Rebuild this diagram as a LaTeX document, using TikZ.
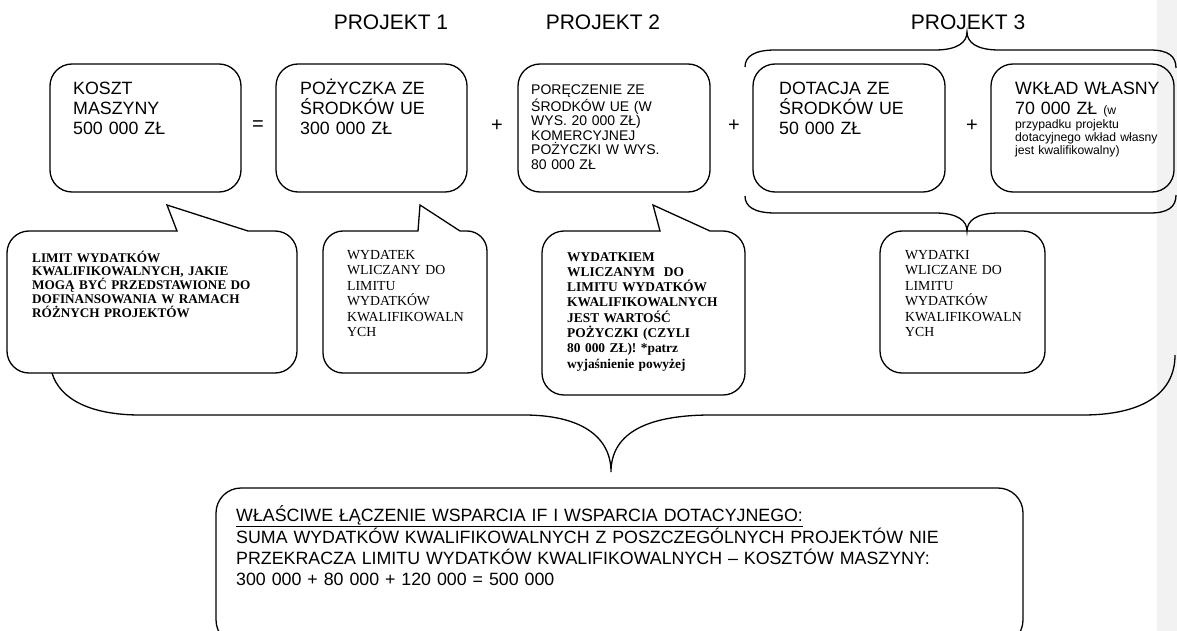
\documentclass[tikz,border=0pt]{standalone}
\usepackage{fontspec}
\setmainfont{Liberation Sans}
\newfontfamily\tnr{Liberation Serif}
\newcommand{\proj}[0]{\fontsize{21}{25}\selectfont}
\newcommand{\duzy}[0]{\fontsize{17.8}{20}\selectfont}
\newcommand{\maly}[0]{\fontsize{14}{14.4}\selectfont}
\newcommand{\drobny}[0]{\fontsize{12.2}{13}\selectfont}
\newcommand{\tnrb}[0]{\tnr\bfseries\fontsize{13.2}{13.8}\selectfont}
\newcommand{\tnrr}[0]{\tnr\fontsize{13.8}{15.5}\selectfont}
\definecolor{margines}{RGB}{242,242,242}
\tikzset{
  ramka/.style={draw, line width=1.3pt, rounded corners=22pt, inner sep=0pt},
  tekst/.style={anchor=base west, inner sep=0pt, align=left},
  linia/.style={line width=1.3pt},
  znak/.style={font=\fontsize{20}{24}\selectfont},
}

\begin{document}
\begin{tikzpicture}[x=1pt, y=-1pt]
    \useasboundingbox (0,0) rectangle (1177,631);
    \clip (0,0) rectangle (1177,631);
    \fill[margines] (1157,0) rectangle (1177,631);

    \node[font=\proj] (Proj1) at (391,22) {PROJEKT 1};
    \node[font=\proj] (Proj2) at (603,22) {PROJEKT 2};
    \node[font=\proj] (Proj3) at (968,22) {PROJEKT 3};

    \node[ramka, minimum width=191pt, minimum height=128pt] (Koszt) at (145.5,128) {};
    \node[ramka, minimum width=191pt, minimum height=128pt] (Pozyczka) at (371.5,128) {};
    \node[ramka, minimum width=192pt, minimum height=128pt] (Poreczenie) at (614,128) {};
    \node[ramka, minimum width=192pt, minimum height=128pt] (Dotacja) at (849,128) {};
    \node[ramka, minimum width=183pt, minimum height=128pt] (Wklad) at (1082.5,128) {};

    \node[znak] (Rowna) at (258,126) {=};
    \node[znak] (Plus1) at (497,126) {+};
    \node[znak] (Plus2) at (734,126) {+};
    \node[znak] (Plus3) at (972,126) {+};

    \node[tekst, font=\duzy, text width=180pt] (KosztT) at (73,95) {KOSZT\\MASZYNY\\500 000 ZŁ};
    \node[tekst, font=\duzy, text width=180pt] (PozyczkaT) at (300,95) {POŻYCZKA ZE\\ŚRODKÓW UE\\300 000 ZŁ};
    \node[tekst, font=\maly, text width=180pt] (PoreczenieT) at (531,95) {PORĘCZENIE ZE\\ŚRODKÓW UE (W\\WYS. 20 000 ZŁ)\\KOMERCYJNEJ\\POŻYCZKI W WYS.\\80 000 ZŁ};
    \node[tekst, font=\duzy, text width=180pt] (DotacjaT) at (779,95) {DOTACJA ZE\\ŚRODKÓW UE\\50 000 ZŁ};
    \node[tekst, font=\duzy, text width=180pt] (WkladT) at (1015,95) {WKŁAD WŁASNY\\70 000 ZŁ {\drobny (w}};
    \node[tekst, font=\drobny, text width=180pt] (WkladT2) at (1015,129) {przypadku projektu\\dotacyjnego wkład własny\\jest kwalifikowalny)};

    % klamra projektu 3
    \draw[linia] (745,67) .. controls (745,56) and (755,50) .. (775,50) -- (935,50)
        .. controls (958,50) and (967,42) .. (967,32)
        .. controls (967,42) and (976,50) .. (999,50) -- (1150,50)
        .. controls (1168,50) and (1176,56) .. (1176,68);
    \draw[linia] (745,196) .. controls (745,207) and (755,213) .. (775,213) -- (935,213)
        .. controls (958,213) and (967,221) .. (967,231)
        .. controls (967,221) and (976,213) .. (999,213) -- (1150,213)
        .. controls (1168,213) and (1176,207) .. (1176,195);

    % dymki
    \draw[linia] (167,205) -- (248,231) [rounded corners=22pt] -- (297,231) -- (297,373)
        -- (7,373) -- (7,231) [sharp corners] -- (177,231) -- cycle;
    \draw[linia] (420,205) -- (460,231) [rounded corners=20pt] -- (487,231) -- (487,373)
        -- (323,373) -- (323,231) [sharp corners] -- (418,231) -- cycle;
    \draw[linia] (653,205) -- (710,231) [rounded corners=22pt] -- (745,231) -- (745,395)
        -- (542,395) -- (542,231) [sharp corners] -- (660,231) -- cycle;
    \node[ramka, minimum width=165pt, minimum height=142pt] (WydatkiC) at (962.5,302) {};

    \node[tekst, font=\tnrb, text width=260pt] (LimitT) at (32,262) {LIMIT WYDATKÓW\\KWALIFIKOWALNYCH, JAKIE\\MOGĄ BYĆ PRZEDSTAWIONE DO\\DOFINANSOWANIA W RAMACH\\RÓŻNYCH PROJEKTÓW};
    \node[tekst, font=\tnrr, text width=140pt] (WydatekT) at (347,259) {WYDATEK\\WLICZANY DO\\LIMITU\\WYDATKÓW\\KWALIFIKOWALN\\YCH};
    \node[tekst, font=\tnr\bfseries\fontsize{13.4}{15.3}\selectfont, text width=170pt] (WydatkiemT) at (567,261) {WYDATKIEM\\WLICZANYM\ \ DO\\LIMITU WYDATKÓW\\KWALIFIKOWALNYCH\\JEST WARTOŚĆ\\POŻYCZKI (CZYLI\\80 000 ZŁ)! *patrz\\wyjaśnienie powyżej};
    \node[tekst, font=\tnrr, text width=140pt] (WydatkiT) at (905,259) {WYDATKI\\WLICZANE DO\\LIMITU\\WYDATKÓW\\KWALIFIKOWALN\\YCH};

    % duza klamra
    \draw[linia] (52,373) .. controls (60,400) and (92,415) .. (140,415) -- (524,415)
        .. controls (580,415) and (611,436) .. (611,472)
        .. controls (611,436) and (642,415) .. (711,415) -- (1083,415)
        .. controls (1140,415) and (1175,395) .. (1175,355);

    \node[ramka, rounded corners=25pt, minimum width=807pt, minimum height=157pt] (Suma) at (619.5,566.5) {};
    \node[tekst, font=\fontsize{17.8}{21}\selectfont, text width=790pt] (SumaT) at (236,521) {\underline{WŁAŚCIWE ŁĄCZENIE WSPARCIA IF I WSPARCIA DOTACYJNEGO:}\\SUMA WYDATKÓW KWALIFIKOWALNYCH Z POSZCZEGÓLNYCH PROJEKTÓW NIE\\PRZEKRACZA LIMITU WYDATKÓW KWALIFIKOWALNYCH – KOSZTÓW MASZYNY:\\300 000 + 80 000 + 120 000 = 500 000};
\end{tikzpicture}
\end{document}
